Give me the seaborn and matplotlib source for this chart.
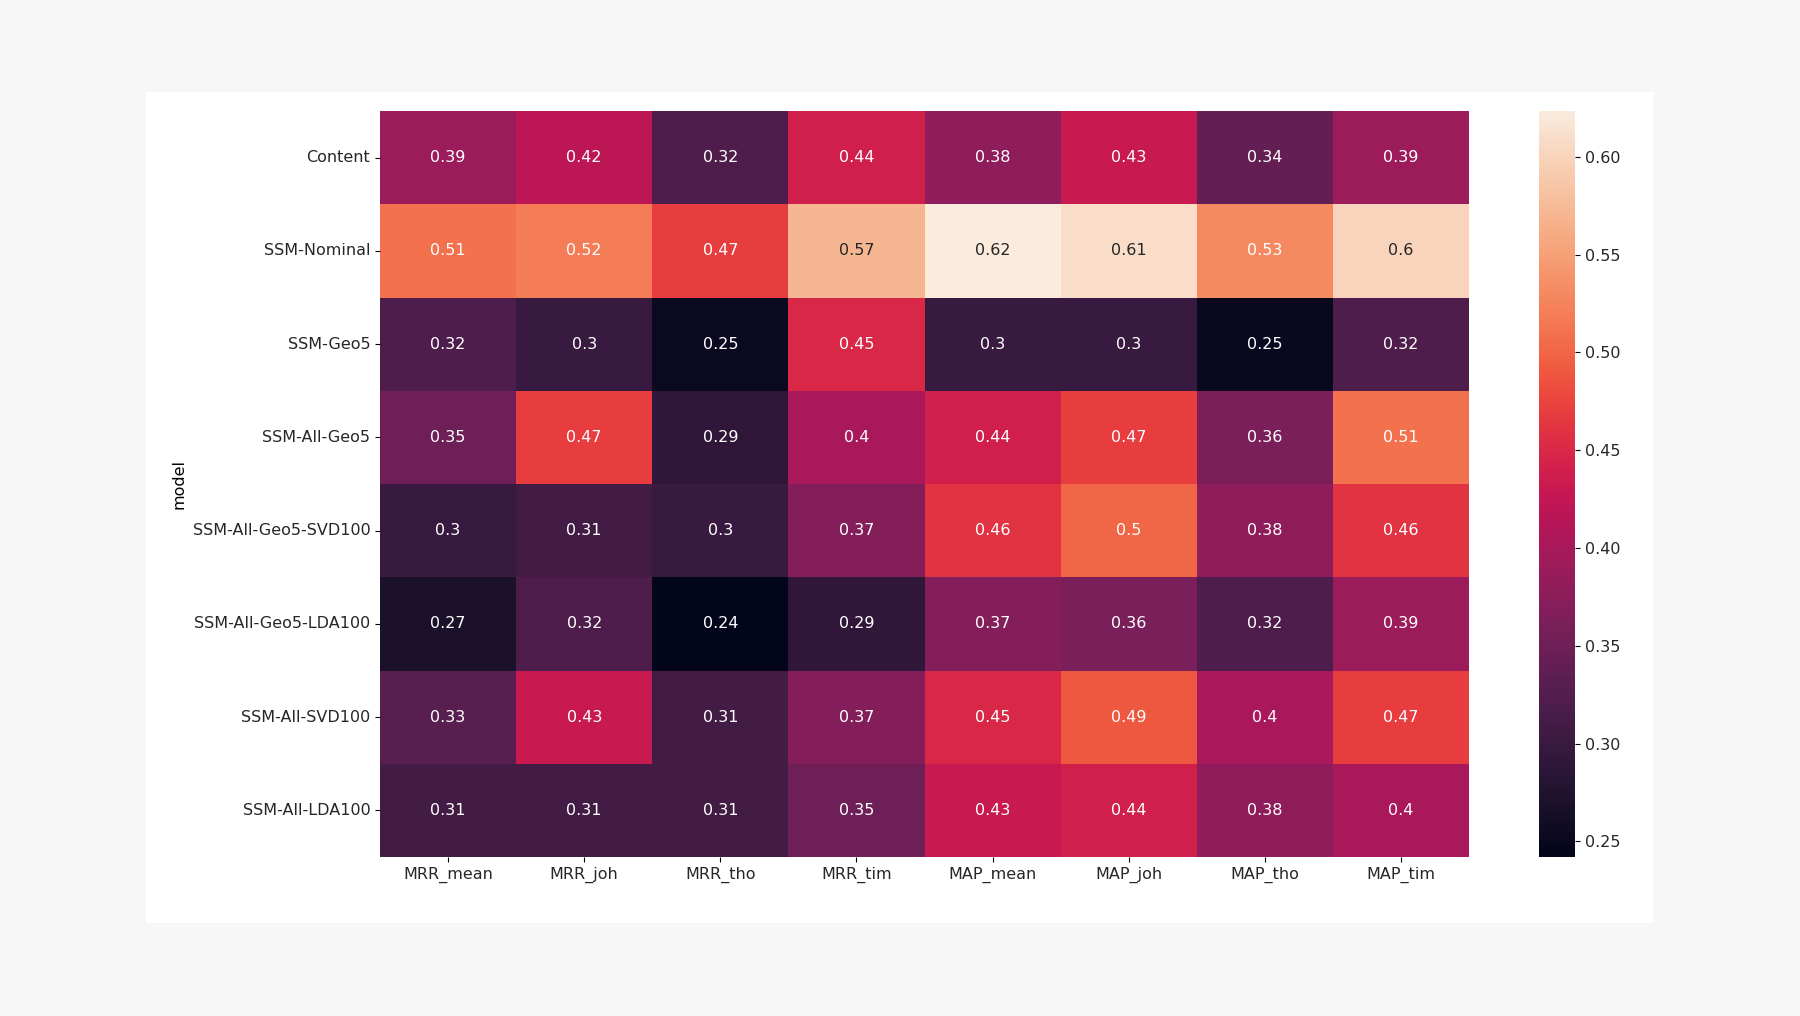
import numpy as np
import pandas as pd
import seaborn as sns
import matplotlib.pyplot as plt
from matplotlib.patches import Rectangle

# model rows and metric columns
models = ['Content', 'SSM-Nominal', 'SSM-Geo5', 'SSM-All-Geo5',
          'SSM-All-Geo5-SVD100', 'SSM-All-Geo5-LDA100',
          'SSM-All-SVD100', 'SSM-All-LDA100']
metrics = ['MRR_mean', 'MRR_joh', 'MRR_tho', 'MRR_tim',
           'MAP_mean', 'MAP_joh', 'MAP_tho', 'MAP_tim']

content = [0.39, 0.42, 0.32, 0.44, 0.38, 0.43, 0.34, 0.39]
ssm_nominal = [0.51, 0.52, 0.47, 0.57, 0.6235, 0.61, 0.53, 0.60]
ssm_geo5 = [0.32, 0.30, 0.252, 0.45, 0.30, 0.30, 0.25, 0.32]
ssm_all_geo5 = [0.35, 0.47, 0.29, 0.40, 0.44, 0.47, 0.36, 0.51]
ssm_all_geo5_svd = [0.30, 0.31, 0.30, 0.37, 0.46, 0.50, 0.38, 0.46]
ssm_all_geo5_lda = [0.27, 0.32, 0.242, 0.29, 0.37, 0.36, 0.32, 0.39]
ssm_all_svd = [0.33, 0.43, 0.31, 0.37, 0.45, 0.49, 0.40, 0.47]
ssm_all_lda = [0.31, 0.31, 0.31, 0.35, 0.43, 0.44, 0.38, 0.40]

df = pd.DataFrame([content, ssm_nominal, ssm_geo5, ssm_all_geo5,
                   ssm_all_geo5_svd, ssm_all_geo5_lda, ssm_all_svd, ssm_all_lda],
                  index=pd.Index(models, name='model'), columns=metrics)

plt.rcParams['font.family'] = ['DejaVu Sans']
plt.rcParams['font.size'] = 11.5
plt.rcParams['text.color'] = '#262626'
plt.rcParams['xtick.labelcolor'] = '#262626'
plt.rcParams['ytick.labelcolor'] = '#262626'

fig = plt.figure(figsize=(18, 10.16), dpi=100, facecolor='#f7f7f7')
# white panel the notebook figure sits on
fig.patches.append(Rectangle((146 / 1800, 1 - 923 / 1016), 1507 / 1800, 831 / 1016,
                             transform=fig.transFigure, facecolor='white',
                             edgecolor='none', zorder=-10))

ax = fig.add_axes([380 / 1800, 1 - 857 / 1016, 1089 / 1800, 746 / 1016])
cax = fig.add_axes([1539 / 1800, 1 - 857 / 1016, 36 / 1800, 746 / 1016])

sns.heatmap(df, annot=True, ax=ax, cbar_ax=cax, annot_kws={'fontsize': 11.5})
ax.set_xlabel('')
ax.set_ylabel('model', fontsize=11.5)
ax.tick_params(axis='both', labelsize=11.5)
ax.set_yticklabels(ax.get_yticklabels(), rotation=0)
cax.tick_params(labelsize=11.5)

plt.savefig('out.png', dpi=100, facecolor=fig.get_facecolor())
